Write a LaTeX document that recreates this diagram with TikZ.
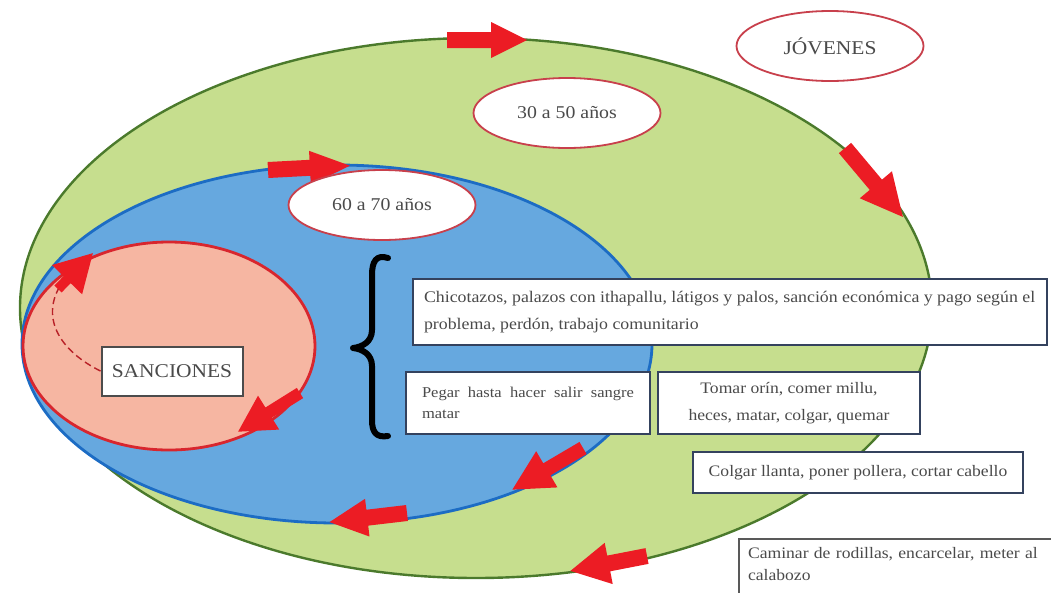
\documentclass[tikz,border=0pt]{standalone}
\usepackage{fontspec}
\setmainfont{Liberation Serif}
\newfontfamily\widefam[FakeStretch=1.1]{Liberation Serif}
\usetikzlibrary{shapes.geometric}
\definecolor{gfill}{HTML}{C6DE8E}
\definecolor{gline}{HTML}{4B7A2C}
\definecolor{bfill}{HTML}{66A8DF}
\definecolor{bline}{HTML}{1C6CC4}
\definecolor{rfill}{HTML}{F6B6A2}
\definecolor{rline}{HTML}{D8262E}
\definecolor{arr}{HTML}{EC1C24}
\definecolor{lbline}{HTML}{C8404C}
\definecolor{boxline}{HTML}{34425E}
\definecolor{txt}{HTML}{4A4A4A}
% x, y, angle, length, head length, shaft half width, head half width
\newcommand\blockarrow[7]{%
  \fill[arr,shift={(#1,#2)},rotate=#3] (0,-#6) -- ({#4-#5},-#6) -- ({#4-#5},-#7) -- (#4,0) -- ({#4-#5},#7) -- ({#4-#5},#6) -- (0,#6) -- cycle;}
\tikzset{
  bigell/.style={ellipse, inner sep=0pt},
  lblell/.style={ellipse, draw=lbline, line width=1.8pt, fill=white, text=txt,
    minimum width=187pt, minimum height=70pt, inner sep=0pt, font=\widefam\fontsize{18}{20}\selectfont},
  txtbox/.style={draw=boxline, line width=2.6pt, fill=white, text=txt, inner sep=0pt},
}
\begin{document}
\begin{tikzpicture}[x=1pt,y=-1pt]
\useasboundingbox (0,0) rectangle (1051,592);
% big ellipses
\node[bigell, fill=gfill, draw=gline, line width=2.4pt, minimum width=912pt, minimum height=540pt] (green) at (476,308) {};
\node[bigell, fill=bfill, draw=bline, line width=2.8pt, minimum width=630pt, minimum height=358pt] (blue) at (337,344) {};
\node[bigell, fill=rfill, draw=rline, line width=2.8pt, minimum width=292pt, minimum height=208pt] (red) at (169,346) {};
% block arrows
\blockarrow{447}{40}{0}{80}{36}{8}{18}
\blockarrow{845}{148}{-50}{90}{42}{8}{21}
\blockarrow{268}{170}{3}{82}{40}{8}{17}
\blockarrow{583}{448}{-149.5}{82}{40}{7}{21}
\blockarrow{407}{513}{186.7}{78}{38}{8}{19}
\blockarrow{647}{556}{191}{78}{39}{8}{21}
\blockarrow{300}{393}{212}{73}{36}{6}{20}
% SANCIONES box and dashed return arrow
\node[draw=black!70, line width=2pt, fill=white, text=txt, minimum width=141pt, minimum height=49pt, inner sep=0pt,
  font=\widefam\fontsize{19.5}{21}\selectfont] (sanc) at (172,371) {SANCIONES};
\coordinate (dbase) at (60,286);
\draw[rline!85!black, line width=1.4pt, dash pattern=on 7pt off 4pt] (sanc.west) .. controls (62,352) and (40,320) .. (dbase);
\blockarrow{58}{289}{45.8}{50}{37}{5}{21}
% label ellipses
\node[lblell, font=\widefam\fontsize{19.5}{21}\selectfont] (jov) at (830,46) {JÓVENES};
\node[lblell] (t3050) at (567,113) {30 a 50 años};
\node[lblell] (t6070) at (382,205) {60 a 70 años};
% brace
\draw[line width=6pt, line cap=round, line join=round] (388,258) .. controls (376,254) and (372,262) .. (372,275) -- (372,330) .. controls (372,342) and (362,347) .. (353,348) .. controls (362,349) and (372,354) .. (372,366) -- (372,420) .. controls (372,432) and (376,438) .. (388,436);
% text boxes
\node[txtbox, minimum width=634pt, minimum height=66pt, font=\widefam\fontsize{16.2}{27}\selectfont, align=left] (chic) at (730,312)
  {\parbox{612pt}{Chicotazos, palazos con ithapallu, látigos y palos, sanción económica y pago según el\\ problema, perdón, trabajo comunitario}};
\node[txtbox, minimum width=244pt, minimum height=62pt, font=\widefam\fontsize{15}{21}\selectfont] (pegar) at (528,403)
  {\parbox{212pt}{\makebox[212pt][s]{Pegar hasta hacer salir sangre}\\ matar}};
\node[txtbox, minimum width=262pt, minimum height=62pt, font=\widefam\fontsize{16}{27}\selectfont, align=center] (tomar) at (789,403)
  {Tomar orín, comer millu,\\ heces, matar, colgar, quemar};
\node[txtbox, minimum width=330pt, minimum height=41pt, font=\widefam\fontsize{16}{18}\selectfont] (colgar) at (858,472.5)
  {Colgar llanta, poner pollera, cortar cabello};
\node[draw=black!65, line width=2pt, fill=white, text=txt, anchor=north west, text width=322pt,
  text height=15pt, text depth=50pt, inner xsep=9pt, inner ysep=4pt, font=\widefam\fontsize{16}{22}\selectfont] (cam) at (738,538)
  {\parbox[t]{320pt}{Caminar de rodillas, encarcelar, meter al\\ calabozo}};
\end{tikzpicture}
\end{document}
